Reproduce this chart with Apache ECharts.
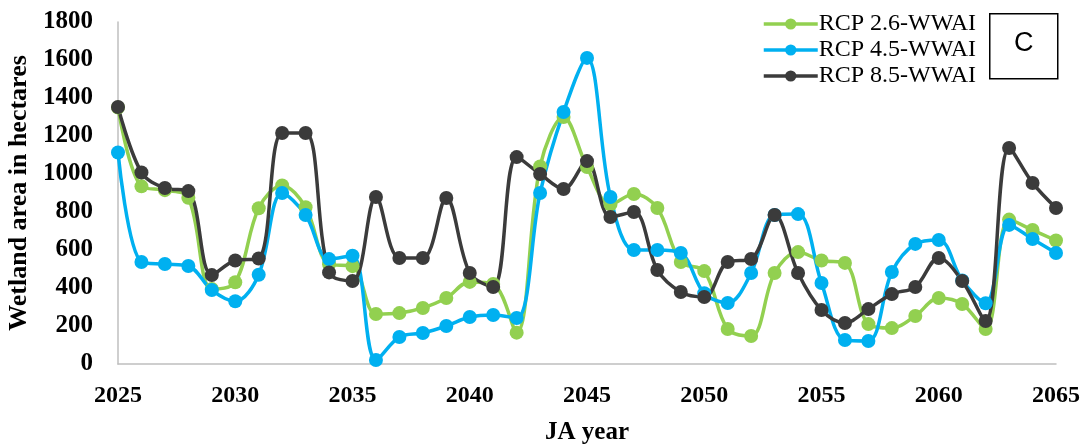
<!DOCTYPE html>
<html>
<head>
<meta charset="utf-8">
<script src="https://cdn.jsdelivr.net/npm/echarts@6/dist/echarts.min.js"></script>
<style>
html,body{margin:0;padding:0;background:#fff;}
#chart{width:1090px;height:445px;}
</style>
</head>
<body>
<div id="chart"></div>
<script>
const years = [2025,2026,2027,2028,2029,2030,2031,2032,2033,2034,2035,2036,2037,2038,2039,2040,2041,2042,2043,2044,2045,2046,2047,2048,2049,2050,2051,2052,2053,2054,2055,2056,2057,2058,2059,2060,2061,2062,2063,2064,2065];
const rcp26 = [1350,935,915,875,395,430,820,940,825,525,515,263,268,295,347,432,421,165,1040,1300,1037,840,895,821,537,489,184,147,479,589,545,532,210,189,253,347,316,184,760,705,650];
const rcp45 = [1113,537,526,516,389,330,470,900,784,552,570,21,142,163,200,247,258,242,900,1326,1611,879,600,600,584,372,321,479,784,789,426,126,121,484,632,653,440,320,732,658,584];
const rcp85 = [1353,1008,926,910,468,545,555,1216,1216,482,437,879,558,558,874,479,405,1089,1000,921,1068,774,800,495,379,353,537,553,784,479,284,216,289,368,405,558,437,226,1137,953,821];
const seriesNames = ['RCP 2.6-WWAI','RCP 4.5-WWAI','RCP 8.5-WWAI'];
const seriesColors = ['#92d050','#00b0f0','#3b3b3b'];
const panelLabel = 'C';

const serif = '"Liberation Serif","Times New Roman",serif';
const pair = arr => years.map((y,i)=>[y,arr[i]]);
const mk = (name,data,color) => ({
  name, type:'line', data:pair(data), smooth:0.35,
  symbol:'circle', symbolSize:14,
  lineStyle:{color, width:3.5},
  itemStyle:{color},
  emphasis:{disabled:true}
});
const chart = echarts.init(document.getElementById('chart'));
chart.setOption({
  animation:false,
  grid:{left:118,right:34,top:22,bottom:81,containLabel:false,outerBoundsMode:'none'},
  legend:{
    orient:'vertical', left:757, top:7, itemWidth:54, itemHeight:14, itemGap:2,
    lineStyle:{width:3.5},
    textStyle:{fontFamily:serif,fontSize:24,color:'#000',padding:[0,0,0,-4]},
    data:seriesNames
  },
  xAxis:{
    type:'value', min:2025, max:2065, interval:5,
    name:'JA year', nameLocation:'middle', nameGap:56,
    nameTextStyle:{fontFamily:serif,fontSize:25,fontWeight:'bold',color:'#000'},
    axisLine:{lineStyle:{color:'#bfbfbf',width:1.5}},
    axisTick:{show:false}, splitLine:{show:false},
    axisLabel:{fontFamily:serif,fontSize:24,fontWeight:'bold',color:'#000',margin:20,formatter:v=>String(v)}
  },
  yAxis:{
    type:'value', min:0, max:1800, interval:200,
    name:'Wetland area in hectares', nameLocation:'middle', nameGap:86, nameRotate:90,
    nameTextStyle:{fontFamily:serif,fontSize:26,fontWeight:'bold',color:'#000'},
    axisLine:{show:true,lineStyle:{color:'#bfbfbf',width:1.5}},
    axisTick:{show:false}, splitLine:{show:false},
    axisLabel:{fontFamily:serif,fontSize:25,fontWeight:'bold',color:'#000',margin:25,formatter:v=>String(v)}
  },
  graphic:[
    {type:'rect',left:989,top:13,shape:{width:68,height:65},style:{fill:'#fff',stroke:'#000',lineWidth:1.5}},
    {type:'text',left:1014,top:30,style:{text:panelLabel,font:'27px "Liberation Sans", Arial, sans-serif',fill:'#000'}}
  ],
  series:[mk(seriesNames[0],rcp26,seriesColors[0]),mk(seriesNames[1],rcp45,seriesColors[1]),mk(seriesNames[2],rcp85,seriesColors[2])]
});
</script>
</body>
</html>
